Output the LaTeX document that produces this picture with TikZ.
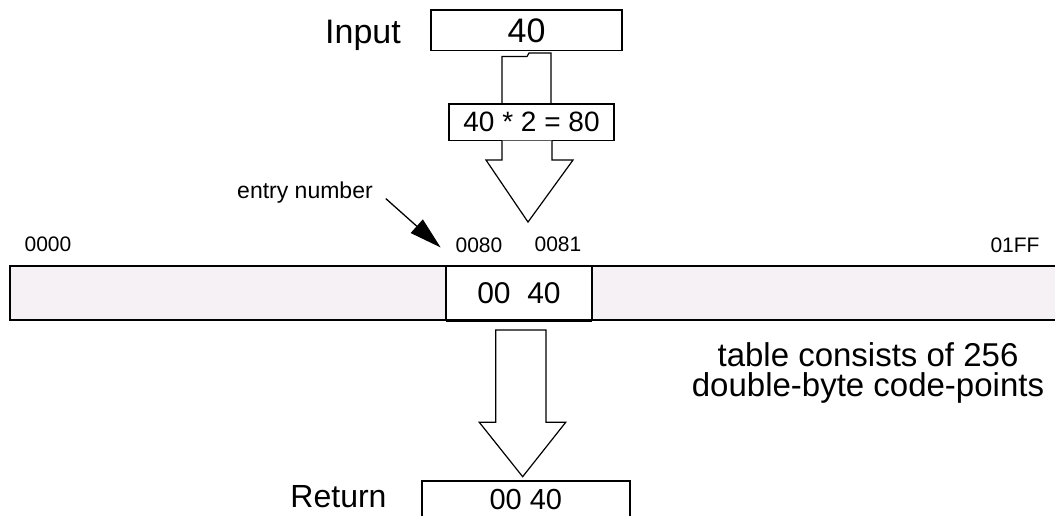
\documentclass[tikz,border=0pt]{standalone}
\usepackage{fontspec}
\setmainfont{Liberation Sans}
\usetikzlibrary{arrows.meta,calc}
\definecolor{tablefill}{RGB}{246,241,244}
\newcommand{\pxfont}[1]{\fontsize{#1}{#1}\selectfont}
\begin{document}
\begin{tikzpicture}[x=1pt,y=-1pt,
  box/.style={draw, line width=1.6pt, inner sep=0pt, outer sep=0pt, fill=white},
  lbl/.style={inner sep=0pt, outer sep=0pt, anchor=base},
  blockarrow/.style={draw, line width=1.2pt, fill=white, line join=miter},
  pointer/.style={line width=1.3pt, -{Triangle[length=32pt,width=18pt]}},
]
\useasboundingbox (0,0) rectangle (1055,516);

% input value and the doubling step
\node[box, minimum width=191, minimum height=40.5, font=\pxfont{34}] (inbox) at (526.5,30.3) {40};
\node[lbl, font=\pxfont{34}] (inlbl) at (363,43.3) {Input};
\node[box, minimum width=165, minimum height=36.5, font=\pxfont{28}] (calcbox) at (531.5,122.3) {40 * 2 = 80};

% stem from the input box down to the doubling step
\draw[line width=1.2pt]
  ($(calcbox.north)+(-29.5,0)$) |- ($(inbox.south)+(0.5,6)$)
  -- ($(inbox.south)+(2.5,2.5)$) -| ($(calcbox.north)+(19.5,0)$);

% block arrow pointing at the table entry
\draw[blockarrow]
  ($(calcbox.south)+(-29.5,0)$) -- ($(calcbox.south)+(-29.5,19.5)$)
  -- ($(calcbox.south)+(-45.5,19.5)$) -- ($(calcbox.south)+(-3.5,81.5)$)
  -- ($(calcbox.south)+(41.5,19.5)$) -- ($(calcbox.south)+(20.5,19.5)$)
  -- ($(calcbox.south)+(20.5,0)$);

% the lookup table
\node[draw, line width=2pt, fill=tablefill, inner sep=0pt, outer sep=0pt,
      minimum width=1053, minimum height=54] (tbl) at (536,293) {};
\node[box, line width=2pt, minimum width=146, minimum height=54, font=\pxfont{30}] (cell) at (519,293) {00\ \ 40};
\draw[line width=3pt] (cell.south west) -- (cell.south east);

% offsets above the table
\node[lbl, font=\pxfont{21}] (l0000) at (48,251.7) {0000};
\node[lbl, font=\pxfont{21}] (l0080) at (479,252.7) {0080};
\node[lbl, font=\pxfont{21}] (l0081) at (558,251) {0081};
\node[lbl, font=\pxfont{21}] (l01ff) at (1015,252) {01FF};

\node[lbl, font=\pxfont{23}] (entry) at (305,198.5) {entry number};
\draw[pointer] ($(entry.east)+(13,6)$) -- ($(l0080.west)+(-15,2)$);

\node[inner sep=0pt, align=center, font=\fontsize{33}{30}\selectfont] (note) at (868,372.5)
  {table consists of 256\\double-byte code-points};

% result
\node[box, anchor=north, minimum width=208.3, inner xsep=0pt, inner ysep=9pt, font=\pxfont{29}] (retbox) at (525.85,480.7) {00 40};
\node[lbl, font=\pxfont{32}] (retlbl) at (338.5,507) {Return};

\draw[blockarrow]
  ($(cell.south)+(-23.3,10)$) -- ($(cell.south)+(27,10)$)
  -- ($(cell.south)+(27,102.3)$) -- ($(cell.south)+(46.7,102.3)$)
  -- ($(retbox.north)+(-3.2,-4)$)
  -- ($(cell.south)+(-39.7,102.3)$) -- ($(cell.south)+(-23.3,102.3)$) -- cycle;
\end{tikzpicture}
\end{document}
